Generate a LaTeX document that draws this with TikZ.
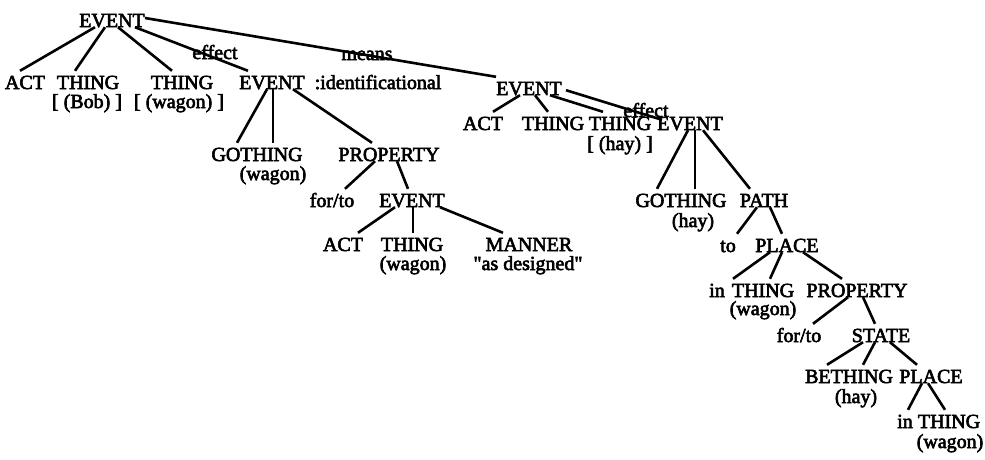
\documentclass[tikz,border=0pt]{standalone}
\usepackage{fontspec}
\setmainfont{Liberation Serif}[BoldFont=Liberation Serif, BoldFeatures={FakeBold=3}]
\tikzset{
	tag/.style={inner sep=0pt, anchor=base, text height=18pt, text depth=0pt, font=\fontsize{20}{22}\selectfont\bfseries},
	branch/.style={line width=2.6pt}
}
\begin{document}
\begin{tikzpicture}[x=1pt, y=-1pt]
		\useasboundingbox (0,0) rectangle (985,459);
		\node[tag] (ev0) at (112,27) {EVENT};
		\node[tag] (act0) at (25,89) {ACT};
		\node[tag] (thg0) at (88,89) {THING};
		\node[tag] (bob) at (87,108) {[ (Bob) ]};
		\node[tag] (thg1) at (182,89) {THING};
		\node[tag] (wag0) at (179,108) {[ (wagon) ]};
		\node[tag] (ev1) at (272,89) {EVENT};
		\node[tag] (ident) at (378,89) {:identificational};
		\node[tag] (eff0) at (215,59) {effect};
		\node[tag] (means) at (367,60) {means};
		\node[tag] (gothg0) at (257,161) {GOTHING};
		\node[tag] (wag1) at (273,180) {(wagon)};
		\node[tag] (prop0) at (389,161) {PROPERTY};
		\node[tag] (forto0) at (332,207) {for/to};
		\node[tag] (ev2) at (412,207) {EVENT};
		\node[tag] (act1) at (343,251) {ACT};
		\node[tag] (thg2) at (412,251) {THING};
		\node[tag] (wag2) at (413,270) {(wagon)};
		\node[tag] (manner) at (529,251) {MANNER};
		\node[tag] (asdes) at (528,270) {\textquotedbl as designed\textquotedbl};
		\node[tag] (ev3) at (529,95) {EVENT};
		\node[tag] (act2) at (483,130) {ACT};
		\node[tag] (thg3) at (553,130) {THING};
		\node[tag] (thg4) at (620,130) {THING};
		\node[tag] (hay0) at (620,150) {[ (hay) ]};
		\node[tag] (ev4) at (690,130) {EVENT};
		\node[tag] (eff1) at (646,117) {effect};
		\node[tag] (gothg1) at (681,207) {GOTHING};
		\node[tag] (hay1) at (693,227) {(hay)};
		\node[tag] (path0) at (764,207) {PATH};
		\node[tag] (to0) at (728,252) {to};
		\node[tag] (place0) at (787,252) {PLACE};
		\node[tag] (in0) at (717,297) {in};
		\node[tag] (thg5) at (763,297) {THING};
		\node[tag] (wag3) at (763,315) {(wagon)};
		\node[tag] (prop1) at (857,297) {PROPERTY};
		\node[tag] (forto1) at (799,342) {for/to};
		\node[tag] (state) at (881,342) {STATE};
		\node[tag] (beth) at (849,383) {BETHING};
		\node[tag] (hay2) at (856,403) {(hay)};
		\node[tag] (place1) at (931,383) {PLACE};
		\node[tag] (in1) at (905,428) {in};
		\node[tag] (thg6) at (949,428) {THING};
		\node[tag] (wag4) at (950,448) {(wagon)};
		\draw[branch] ([xshift=-17pt]ev0.south) -- ([xshift=-5pt]act0.north);
		\draw[branch] ([xshift=-7pt]ev0.south) -- ([xshift=-13pt]thg0.north);
		\draw[branch] ([xshift=6pt]ev0.south) -- ([xshift=-10pt]thg1.north);
		\draw[branch] ([xshift=23pt]ev0.south) -- ([xshift=-24pt]ev1.north);
		\draw[branch] (ev0.east) -- (ev3.north west);
		\draw[branch] ([xshift=-5pt]ev1.south) -- ([xshift=-20pt]gothg0.north);
		\draw[branch] ([xshift=1pt]ev1.south) -- ([xshift=16pt]gothg0.north);
		\draw[branch] ([xshift=21pt]ev1.south) -- ([xshift=-17pt]prop0.north);
		\draw[branch] ([xshift=-14pt]prop0.south) -- ([xshift=13pt]forto0.north);
		\draw[branch] ([xshift=8pt]prop0.south) -- ([xshift=-4pt]ev2.north);
		\draw[branch] ([xshift=-17pt]ev2.south) -- ([xshift=15pt]act1.north);
		\draw[branch] ([xshift=1pt]ev2.south) -- ([xshift=1pt]thg2.north);
		\draw[branch] ([xshift=28pt]ev2.south) -- ([xshift=-26pt]manner.north);
		\draw[branch] ([xshift=-9pt]ev3.south) -- ([xshift=10pt]act2.north);
		\draw[branch] ([xshift=6pt]ev3.south) -- ([xshift=-5pt]thg3.north);
		\draw[branch] ([xshift=21pt]ev3.south) -- ([xshift=-17pt]thg4.north);
		\draw[branch] ([xshift=4pt,yshift=5pt]ev3.south east) -- ([xshift=-28pt,yshift=-8pt]ev4.north);
		\draw[branch] ([xshift=-2pt]ev4.south) -- ([xshift=-24pt]gothg1.north);
		\draw[branch] ([xshift=5pt]ev4.south) -- ([xshift=14pt]gothg1.north);
		\draw[branch] ([xshift=13pt]ev4.south) -- ([xshift=-14pt]path0.north);
		\draw[branch] ([xshift=-7pt]path0.south) -- ([xshift=9pt]to0.north);
		\draw[branch] ([xshift=6pt]path0.south) -- ([xshift=-5pt]place0.north);
		\draw[branch] ([xshift=-17pt]place0.south) -- ([xshift=16pt]in0.north);
		\draw[branch] ([xshift=-5pt]place0.south) -- ([xshift=7pt]thg5.north);
		\draw[branch] ([xshift=16pt]place0.south) -- ([xshift=-15pt]prop1.north);
		\draw[branch] ([xshift=-9pt]prop1.south) -- ([xshift=14pt]forto1.north);
		\draw[branch] ([xshift=6pt]prop1.south) -- ([xshift=-6pt]state.north);
		\draw[branch] ([xshift=-18pt]state.south) -- ([xshift=-22pt]beth.north);
		\draw[branch] ([xshift=-6pt]state.south) -- ([xshift=14pt]beth.north);
		\draw[branch] ([xshift=9pt]state.south) -- ([xshift=-14pt]place1.north);
		\draw[branch] ([xshift=-9pt]place1.south) -- ([xshift=3pt]in1.north);
		\draw[branch] ([xshift=-3pt]place1.south) -- ([xshift=-4pt]thg6.north);
\end{tikzpicture}
\end{document}
